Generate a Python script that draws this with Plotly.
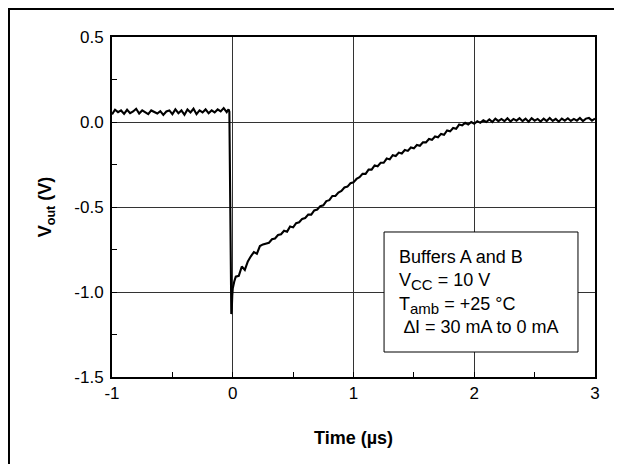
import plotly.graph_objects as go

# ---- data ----
t_before = [-1.000, -0.975, -0.950, -0.925, -0.900, -0.875, -0.850, -0.825, -0.800, -0.775,
            -0.750, -0.725, -0.700, -0.675, -0.650, -0.625, -0.600, -0.575, -0.550, -0.525,
            -0.500, -0.475, -0.450, -0.425, -0.400, -0.375, -0.350, -0.325, -0.300, -0.275,
            -0.250, -0.225, -0.200, -0.175, -0.150, -0.125, -0.100, -0.075, -0.050]
v_before = [0.045, 0.072, 0.058, 0.068, 0.048, 0.072, 0.052, 0.062, 0.078, 0.050,
            0.068, 0.058, 0.046, 0.068, 0.060, 0.050, 0.064, 0.042, 0.062, 0.068,
            0.046, 0.074, 0.052, 0.068, 0.042, 0.074, 0.056, 0.078, 0.046, 0.068,
            0.056, 0.074, 0.052, 0.068, 0.056, 0.074, 0.062, 0.082, 0.058]

t_step = [-0.035, -0.028, -0.022, -0.016, -0.012, -0.008, -0.004, 0.000, 0.012, 0.025]
v_step = [0.075, 0.060, -0.300, -0.950, -1.130, -1.100, -1.020, -0.980, -0.940, -0.910]

t_after = [0.050, 0.075, 0.100, 0.125, 0.150, 0.175, 0.200, 0.225, 0.250, 0.275,
           0.300, 0.325, 0.350, 0.375, 0.400, 0.425, 0.450, 0.475, 0.500, 0.525,
           0.550, 0.575, 0.600, 0.625, 0.650, 0.675, 0.700, 0.725, 0.750, 0.775,
           0.800, 0.825, 0.850, 0.875, 0.900, 0.925, 0.950, 0.975, 1.000, 1.025,
           1.050, 1.075, 1.100, 1.125, 1.150, 1.175, 1.200, 1.225, 1.250, 1.275,
           1.300, 1.325, 1.350, 1.375, 1.400, 1.425, 1.450, 1.475, 1.500, 1.525,
           1.550, 1.575, 1.600, 1.625, 1.650, 1.675, 1.700, 1.725, 1.750, 1.775,
           1.800, 1.825, 1.850, 1.875, 1.900, 1.925, 1.950, 1.975, 2.000, 2.025,
           2.050, 2.075, 2.100, 2.125, 2.150, 2.175, 2.200, 2.225, 2.250, 2.275,
           2.300, 2.325, 2.350, 2.375, 2.400, 2.425, 2.450, 2.475, 2.500, 2.525,
           2.550, 2.575, 2.600, 2.625, 2.650, 2.675, 2.700, 2.725, 2.750, 2.775,
           2.800, 2.825, 2.850, 2.875, 2.900, 2.925, 2.950, 2.975, 3.000]
v_after = [-0.905, -0.850, -0.870, -0.820, -0.790, -0.765, -0.775, -0.730, -0.720, -0.715,
           -0.710, -0.690, -0.685, -0.665, -0.660, -0.640, -0.645, -0.615, -0.620, -0.595,
           -0.590, -0.570, -0.565, -0.545, -0.545, -0.520, -0.515, -0.495, -0.490, -0.465,
           -0.460, -0.435, -0.435, -0.415, -0.405, -0.385, -0.380, -0.360, -0.355, -0.335,
           -0.325, -0.305, -0.305, -0.280, -0.280, -0.255, -0.260, -0.240, -0.240, -0.215,
           -0.220, -0.195, -0.200, -0.180, -0.185, -0.165, -0.170, -0.150, -0.155, -0.135,
           -0.140, -0.120, -0.120, -0.100, -0.105, -0.085, -0.090, -0.070, -0.075, -0.050,
           -0.055, -0.035, -0.040, -0.015, -0.020, -0.005, -0.015, 0.000, -0.010, 0.005,
           -0.005, 0.010, 0.000, 0.015, 0.000, 0.020, 0.005, 0.018, 0.005, 0.022,
           0.003, 0.018, 0.008, 0.022, 0.005, 0.020, 0.002, 0.022, 0.008, 0.018,
           0.003, 0.020, 0.006, 0.024, 0.006, 0.018, 0.002, 0.020, 0.008, 0.022,
           0.006, 0.018, 0.008, 0.024, 0.006, 0.020, 0.024, 0.008, 0.020]

x_tick_vals = [-1, 0, 1, 2, 3]
x_tick_text = ["-1", "0", "1", "2", "3"]
y_tick_vals = [0.5, 0.0, -0.5, -1.0, -1.5]
y_tick_text = ["0.5", "0.0", "-0.5", "-1.0", "-1.5"]

info_lines = ["Buffers A and B",
              "V<sub><span style='font-size:15px'>CC</span></sub> = 10 V",
              "T<sub><span style='font-size:15px'>amb</span></sub> = +25 °C",
              " \u2206I = 30 mA to 0 mA"]

time_us = t_before + t_step + t_after
vout = v_before + v_step + v_after

FONT = "Liberation Sans, Arial, sans-serif"

# plot area in figure pixels: x 104..587, y 29..369
fig = go.Figure()
fig.add_trace(go.Scatter(x=time_us, y=vout, mode="lines",
                         line=dict(color="black", width=2.1), showlegend=False))

# info box
fig.add_shape(type="rect", xref="x", yref="y", x0=1.253, x1=2.859, y0=-1.353, y1=-0.647,
              line=dict(color="black", width=1), fillcolor="white", layer="above")
fig.add_annotation(xref="x", yref="y", x=1.36, y=-1.0, xanchor="left", yanchor="middle",
                   align="left", showarrow=False, text="<br>".join(info_lines),
                   font=dict(family=FONT, size=18, color="black"))

# outer frame (left, top, right)
fig.add_shape(type="line", xref="paper", yref="paper", x0=-0.2143, x1=-0.2143, y0=-0.4, y1=1.085,
              line=dict(color="black", width=3))
fig.add_shape(type="line", xref="paper", yref="paper", x0=-0.25, x1=1.056, y0=1.0824, y1=1.0824,
              line=dict(color="black", width=2))
fig.add_shape(type="line", xref="paper", yref="paper", x0=1.0532, x1=1.0532, y0=-0.4, y1=1.085,
              line=dict(color="black", width=2))

axis_common = dict(showline=True, linecolor="black", linewidth=2, mirror=True,
                   showgrid=True, gridcolor="#333333", gridwidth=1, zeroline=False,
                   ticks="inside", ticklen=5, tickcolor="black", tickwidth=1,
                   tickfont=dict(family=FONT, size=17, color="black"))

fig.update_xaxes(range=[-1, 3], tickvals=x_tick_vals, ticktext=x_tick_text,
                 minor=dict(dtick=0.5, tick0=-1, ticks="inside", ticklen=5, tickcolor="black",
                            showgrid=False),
                 title=dict(text="<b>Time (µs)</b>", font=dict(family=FONT, size=18, color="black"),
                            standoff=29),
                 **axis_common)
fig.update_yaxes(range=[-1.5, 0.5], tickvals=y_tick_vals, ticktext=y_tick_text,
                 ticklabelstandoff=3,
                 minor=dict(dtick=0.25, tick0=0, ticks="inside", ticklen=5, tickcolor="black",
                            showgrid=False),
                 title=dict(text="<b>V<sub>out</sub> (V)</b>", font=dict(family=FONT, size=18, color="black"),
                            standoff=18),
                 **axis_common)

fig.update_layout(width=622, height=464, margin=dict(l=104, r=35, t=29, b=95),
                  paper_bgcolor="white", plot_bgcolor="white",
                  font=dict(family=FONT, color="black"))

fig.write_html("out.html")
